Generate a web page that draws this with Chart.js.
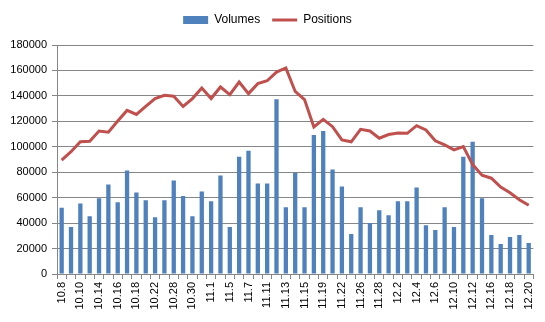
<!DOCTYPE html>
<html>
<head>
<meta charset="utf-8">
<script src="https://cdn.jsdelivr.net/npm/chart.js@4/dist/chart.umd.min.js"></script>
<style>
  html, body { margin: 0; padding: 0; background: #ffffff; }
  #wrap { width: 545px; height: 322px; }
</style>
</head>
<body>
<div id="wrap"><canvas id="c" width="545" height="322"></canvas></div>
<script>
// Trading days
const dates = [
  '10.8','10.9','10.10','10.11','10.14','10.15','10.16','10.17','10.18','10.21',
  '10.22','10.25','10.28','10.29','10.30','10.31','11.1','11.4','11.5','11.6',
  '11.7','11.8','11.11','11.12','11.13','11.14','11.15','11.18','11.19','11.21',
  '11.22','11.25','11.26','11.27','11.28','11.29','12.2','12.3','12.4','12.5',
  '12.6','12.9','12.10','12.11','12.12','12.13','12.16','12.17','12.18','12.19',
  '12.20'
];

// Daily traded volume
const volumes = [
  52000, 37000, 55500, 45400, 59500, 70400, 56400, 81300, 64100, 57900,
  44700, 57900, 73500, 61300, 45400, 64900, 57100, 77400, 36900, 92200,
  96900, 71200, 71200, 137400, 52500, 79500, 52500, 109300, 112400, 82100,
  68800, 31400, 52500, 40000, 50100, 46200, 57100, 57100, 68000, 38400,
  34500, 52500, 36900, 92200, 103900, 59500, 30600, 23600, 29100, 30600,
  24400
];

// Open positions at close
const positions = [
  89600, 96100, 103900, 104400, 112400, 111400, 120200, 128600, 125400, 131700,
  137900, 140500, 139800, 131700, 137900, 146200, 137900, 147000, 141000, 150900,
  141800, 149600, 151900, 158700, 162000, 143500, 137100, 115600, 121500, 115800,
  105400, 103900, 113700, 112400, 106700, 109600, 110900, 110600, 116600, 113200,
  104700, 101500, 97600, 100200, 86000, 77600, 75300, 68300, 63900, 58400,
  54000
];

// Y axis range
const yMin = 0;
const yMax = 180000;
const yStep = 20000;

const FONT = "'Liberation Sans', Arial, sans-serif";
const GRID = '#868686';

// Leave extra room under the legend
const legendGap = {
  id: 'legendGap',
  beforeInit(chart) {
    const fit = chart.legend.fit;
    chart.legend.fit = function () {
      fit.bind(chart.legend)();
      this.height += 9;
    };
  }
};

new Chart(document.getElementById('c'), {
  type: 'bar',
  data: {
    labels: dates,
    datasets: [
      {
        type: 'bar',
        label: 'Volumes',
        data: volumes,
        backgroundColor: '#4F81BD',
        borderWidth: 0,
        barPercentage: 0.46,
        categoryPercentage: 1.0,
        pointStyle: 'rect',
        order: 2
      },
      {
        type: 'line',
        label: 'Positions',
        data: positions,
        borderColor: '#C0504D',
        backgroundColor: '#C0504D',
        borderWidth: 3,
        pointRadius: 0,
        tension: 0,
        pointStyle: 'line',
        order: 1
      }
    ]
  },
  options: {
    responsive: false,
    animation: false,
    layout: { padding: { top: 2, right: 10, bottom: 0, left: 0 } },
    plugins: {
      tooltip: { enabled: false },
      legend: {
        position: 'top',
        align: 'center',
        labels: {
          usePointStyle: true,
          pointStyleWidth: 25,
          boxHeight: 8,
          padding: 12,
          color: '#000000',
          font: { family: FONT, size: 12 },
          sort: (a, b) => a.datasetIndex - b.datasetIndex
        }
      }
    },
    scales: {
      x: {
        offset: true,
        grid: {
          offset: true,
          drawOnChartArea: false,
          drawTicks: true,
          tickLength: 5,
          color: GRID
        },
        border: { color: GRID, width: 1 },
        ticks: {
          autoSkip: false,
          minRotation: 90,
          maxRotation: 90,
          padding: 3,
          color: '#000000',
          font: { family: FONT, size: 11 },
          callback: function (value, index) {
            return index % 2 === 0 ? dates[index] : '';
          }
        },
        afterFit(scale) { scale.height = 48; }
      },
      y: {
        min: yMin,
        max: yMax,
        grid: {
          color: GRID,
          drawTicks: true,
          tickLength: 5
        },
        border: { color: GRID, width: 1 },
        ticks: {
          stepSize: yStep,
          padding: 5,
          color: '#000000',
          font: { family: FONT, size: 11 },
          callback: (v) => String(v)
        },
        afterFit(scale) { scale.width = 57; }
      }
    }
  },
  plugins: [legendGap]
});
</script>
</body>
</html>
